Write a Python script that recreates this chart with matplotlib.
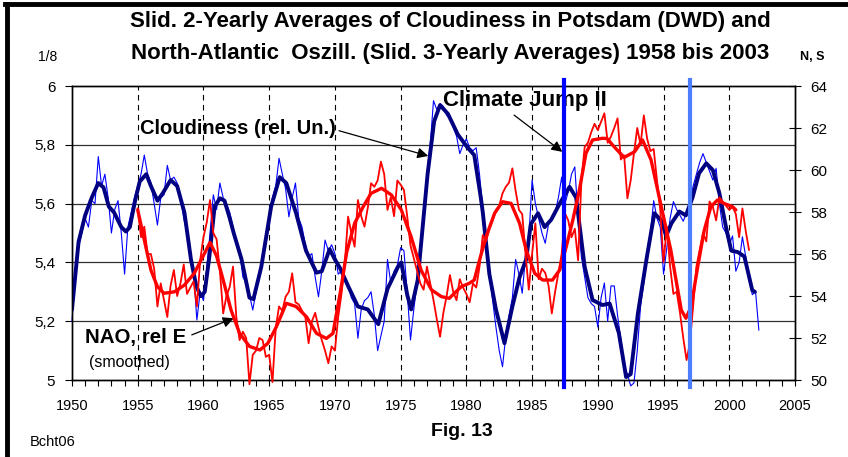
import matplotlib

matplotlib.use('Agg')
import matplotlib.pyplot as plt
from matplotlib.lines import Line2D
from matplotlib.ticker import MultipleLocator

plt.rcParams['font.family'] = ['Liberation Sans', 'DejaVu Sans']

# Bewoelkung, geglaettet (dicke Linie)
navy_years = [1950.0, 1950.5, 1951.0, 1951.5, 1952.0, 1952.4, 1952.8, 1953.2, 1953.75, 1954.1,
              1954.4, 1954.8, 1955.15, 1955.65, 1956.0, 1956.5, 1956.9, 1957.5, 1958.0, 1958.55,
              1959.05, 1959.45, 1959.8, 1960.1, 1960.45, 1960.85, 1961.25, 1961.6, 1962.0, 1962.3,
              1962.9, 1963.5, 1963.8, 1964.4, 1965.15, 1965.8, 1966.3, 1967.05, 1967.8, 1968.6,
              1969.0, 1969.6, 1970.0, 1970.4, 1971.0, 1971.75, 1972.5, 1973.3, 1974.0, 1974.8,
              1975.05, 1975.5, 1975.8, 1976.3, 1977.05, 1977.55, 1978.0, 1978.6, 1979.35, 1980.1,
              1980.6, 1981.1, 1981.25, 1981.75, 1982.25, 1982.9, 1983.5, 1984.05, 1984.55, 1984.9,
              1985.45, 1985.95, 1986.45, 1987.1, 1987.85, 1988.35, 1989.0, 1989.6, 1990.35, 1990.9,
              1991.6, 1992.15, 1992.5, 1993.05, 1993.7, 1994.3, 1994.8, 1995.2, 1995.6, 1996.2,
              1996.7, 1997.2, 1997.7, 1998.25, 1998.75, 1999.25, 1999.75, 2000.15, 2000.65, 2001.15,
              2001.75, 2001.95]
navy_vals = [5.24, 5.47, 5.56, 5.62, 5.67, 5.655, 5.59, 5.57, 5.52, 5.505,
             5.52, 5.61, 5.675, 5.70, 5.66, 5.61, 5.635, 5.68, 5.66, 5.57,
             5.41, 5.32, 5.285, 5.30, 5.42, 5.59, 5.618, 5.61, 5.55, 5.50,
             5.41, 5.28, 5.275, 5.385, 5.59, 5.69, 5.67, 5.567, 5.44, 5.365,
             5.37, 5.445, 5.41, 5.38, 5.32, 5.25, 5.24, 5.19, 5.31, 5.385,
             5.40, 5.29, 5.24, 5.34, 5.70, 5.88, 5.935, 5.905, 5.835, 5.79,
             5.765, 5.62, 5.57, 5.36, 5.24, 5.125, 5.25, 5.35, 5.41, 5.53,
             5.567, 5.52, 5.545, 5.60, 5.657, 5.62, 5.385, 5.272, 5.255, 5.26,
             5.16, 5.01, 5.02, 5.227, 5.41, 5.567, 5.544, 5.49, 5.533, 5.573,
             5.56, 5.62, 5.703, 5.737, 5.714, 5.635, 5.52, 5.44, 5.435, 5.42,
             5.305, 5.30]

# Bewoelkung, gleitende 2-Jahresmittel (duenne Linie), Vierteljahresschritte ab 1950
blue_start = 1950.0
blue_vals = [5.20, 5.36, 5.45, 5.50, 5.55, 5.52, 5.61, 5.60, 5.76, 5.66, 5.70, 5.62,
             5.50, 5.58, 5.61, 5.50, 5.36, 5.52, 5.57, 5.62, 5.66, 5.70, 5.765, 5.70,
             5.67, 5.60, 5.527, 5.62, 5.63, 5.73, 5.68, 5.69, 5.67, 5.62, 5.55, 5.50,
             5.42, 5.36, 5.204, 5.30, 5.27, 5.38, 5.50, 5.63, 5.58, 5.67, 5.62, 5.60,
             5.57, 5.52, 5.46, 5.44, 5.35, 5.33, 5.29, 5.238, 5.30, 5.36, 5.43, 5.47,
             5.55, 5.62, 5.66, 5.754, 5.70, 5.65, 5.555, 5.62, 5.67, 5.55, 5.52, 5.46,
             5.42, 5.43, 5.35, 5.283, 5.37, 5.476, 5.44, 5.46, 5.43, 5.36, 5.37, 5.35,
             5.32, 5.28, 5.26, 5.142, 5.24, 5.27, 5.28, 5.30, 5.22, 5.10, 5.15, 5.20,
             5.41, 5.33, 5.37, 5.39, 5.45, 5.44, 5.30, 5.136, 5.24, 5.33, 5.42, 5.56,
             5.70, 5.80, 5.95, 5.92, 5.94, 5.93, 5.90, 5.89, 5.86, 5.83, 5.77, 5.80,
             5.82, 5.79, 5.78, 5.79, 5.70, 5.58, 5.44, 5.36, 5.27, 5.18, 5.10, 5.045,
             5.15, 5.22, 5.28, 5.41, 5.36, 5.295, 5.42, 5.48, 5.68, 5.60, 5.55, 5.50,
             5.465, 5.53, 5.55, 5.57, 5.62, 5.69, 5.60, 5.64, 5.70, 5.725, 5.55, 5.42,
             5.35, 5.28, 5.26, 5.25, 5.18, 5.28, 5.33, 5.20, 5.32, 5.32, 5.22, 5.14,
             5.05, 5.02, 4.98, 4.99, 5.10, 5.25, 5.33, 5.42, 5.50, 5.61, 5.55, 5.52,
             5.36, 5.45, 5.55, 5.607, 5.58, 5.56, 5.54, 5.57, 5.60, 5.66, 5.70, 5.74,
             5.77, 5.74, 5.71, 5.68, 5.72, 5.60, 5.52, 5.50, 5.46, 5.49, 5.37, 5.40,
             5.487, 5.42, 5.35, 5.29, 5.30, 5.17]

# NAO, geglaettet (dicke rote Linie), rechte Achse
nao_s_years = [1955.0, 1955.5, 1956.0, 1956.5, 1957.0, 1957.8, 1958.55, 1959.3, 1959.95, 1960.5,
               1961.0, 1961.5, 1962.1, 1962.75, 1963.5, 1964.3, 1964.9, 1965.55, 1966.3, 1967.05,
               1967.85, 1968.6, 1969.35, 1969.85, 1970.4, 1970.9, 1971.5, 1972.15, 1972.75, 1973.55,
               1974.3, 1975.05, 1975.8, 1976.55, 1977.35, 1978.1, 1978.7, 1979.6, 1980.2, 1980.6,
               1981.0, 1981.5, 1982.15, 1982.75, 1983.4, 1984.05, 1984.55, 1985.2, 1985.8, 1986.55,
               1987.1, 1987.6, 1988.1, 1988.6, 1989.1, 1989.6, 1990.35, 1990.7, 1991.25, 1992.0,
               1992.8, 1993.4, 1994.05, 1994.55, 1995.05, 1995.55, 1995.95, 1996.35, 1996.7, 1997.1,
               1997.6, 1998.1, 1998.6, 1999.1, 1999.6, 2000.25, 2000.5]
nao_s_vals = [58.1, 56.67, 55.24, 54.44, 54.13, 54.2, 54.52, 55.08, 55.87, 56.55,
              55.9, 54.76, 53.33, 52.22, 51.6, 51.43, 51.75, 52.54, 53.65, 53.5,
              53.0, 52.22, 51.98, 52.22, 54.13, 56.1, 57.46, 58.25, 58.89, 59.13,
              58.81, 58.1, 56.82, 55.24, 54.29, 53.97, 53.89, 54.44, 54.6, 54.76,
              55.71, 56.82, 57.94, 58.49, 58.41, 57.46, 56.19, 55.08, 54.76, 54.76,
              55.24, 56.35, 57.62, 59.05, 60.8, 61.43, 61.51, 61.5, 61.1, 60.6,
              60.87, 61.43, 60.48, 59.05, 57.62, 56.19, 54.76, 53.33, 52.94, 53.49,
              55.4, 57.14, 58.25, 58.57, 58.41, 58.25, 58.1]

# NAO, gleitende 3-Jahresmittel (duenne rote Linie), Vierteljahresschritte ab 1955
nao_start = 1955.0
nao_vals = [58.17, 56.8, 57.3, 56.0, 56.0, 55.3, 53.5, 54.6, 53.8, 53.0, 54.5, 55.24,
            54.0, 54.6, 55.5, 54.1, 54.4, 54.7, 53.5, 55.7, 56.8, 57.5, 58.57, 57.0,
            56.7, 55.2, 53.17, 54.0, 54.44, 55.4, 53.0, 51.9, 52.3, 52.0, 49.8, 51.2,
            51.4, 52.0, 51.9, 51.1, 51.2, 49.9, 52.5, 53.5, 53.3, 53.97, 54.2, 55.08,
            53.7, 53.6, 53.3, 53.0, 51.75, 52.8, 53.2, 52.5, 51.9, 51.4, 50.8, 51.6,
            51.4, 53.0, 54.1, 55.5, 57.78, 57.0, 56.35, 58.57, 57.8, 57.3, 58.2, 59.37,
            59.2, 59.5, 60.4, 59.8, 58.1, 58.7, 57.8, 59.5, 59.3, 59.05, 57.8, 56.4,
            55.8, 55.2, 54.6, 54.3, 55.4, 54.6, 53.8, 52.9, 52.06, 53.2, 54.0, 55.0,
            54.2, 53.8, 54.8, 54.4, 54.1, 53.7, 54.6, 54.4, 55.4, 56.9, 56.6, 57.2,
            57.6, 58.1, 58.3, 58.89, 59.2, 59.4, 60.08, 59.0, 58.1, 57.9, 56.0, 54.3,
            56.0, 57.46, 54.8, 55.3, 55.1, 54.5, 53.17, 54.2, 55.1, 56.0, 57.94, 57.6,
            56.8, 57.2, 55.7, 59.5, 61.1, 61.3, 61.8, 62.2, 61.9, 62.3, 62.7, 61.3,
            61.6, 62.0, 62.46, 60.5, 60.7, 58.65, 59.5, 60.8, 62.0, 61.2, 62.6, 61.5,
            60.9, 61.0, 59.5, 58.1, 55.6, 57.3, 55.4, 54.1, 54.2, 53.2, 52.0, 50.95,
            51.75, 53.5, 55.4, 56.2, 57.0, 56.6, 58.5, 58.25, 57.6, 58.7, 58.5, 58.3,
            58.1, 58.25, 57.9, 56.8, 58.17, 57.1, 56.2]

jump_years = [1987.4, 1997.05]
jump_colors = ['#0000FF', '#4D7EFF']

left_ticks = [5.0, 5.2, 5.4, 5.6, 5.8, 6.0]
left_labels = ['5', '5,2', '5,4', '5,6', '5,8', '6']
right_ticks = [50, 52, 54, 56, 58, 60, 62, 64]
year_ticks = list(range(1950, 2006, 5))

blue_years = [blue_start + 0.25 * i for i in range(len(blue_vals))]
nao_years = [nao_start + 0.25 * i for i in range(len(nao_vals))]

W, H = 848, 457
fig = plt.figure(figsize=(W / 100, H / 100), dpi=100)
ax = fig.add_axes([72 / W, 1 - 380 / H, (795 - 72) / W, (380 - 86) / H])
ax2 = ax.twinx()

ax.set_xlim(1950, 2005)
ax.set_ylim(5, 6)
ax2.set_ylim(50, 64)

# Gitter
for v in left_ticks[1:-1]:
    ax.axhline(v, color='#303030', lw=0.9, zorder=1)
for yr in year_ticks[1:-1]:
    ax.axvline(yr, color='black', lw=0.8, ls=(0, (5, 4)), zorder=1)

ax.plot(blue_years, blue_vals, color='#0000FF', lw=0.8, zorder=3, clip_on=False)
ax.plot(navy_years, navy_vals, color='#000080', lw=2.8, zorder=4, solid_capstyle='round')
ax2.plot(nao_years, nao_vals, color='#FF0000', lw=1.3, zorder=3, clip_on=False)
ax2.plot(nao_s_years, nao_s_vals, color='#FF0000', lw=2.4, zorder=4, solid_capstyle='round')

for yr, c in zip(jump_years, jump_colors):
    ax2.axvline(yr, ymin=-0.025, ymax=1.02, color=c, lw=3.0, zorder=6, clip_on=False)

# Achsen
ax.set_yticks(left_ticks)
ax.set_yticklabels(left_labels)
ax.set_xticks(year_ticks)
ax.xaxis.set_minor_locator(MultipleLocator(1))
ax2.set_yticks(right_ticks)
ax.tick_params(axis='x', which='both', direction='out', length=4, width=0.8, pad=10, labelsize=10.5)
ax.tick_params(axis='y', direction='out', length=5, width=0.8, pad=7, labelsize=11)
ax2.tick_params(axis='y', direction='inout', length=8, width=0.8, pad=7, labelsize=11)
for a in (ax, ax2):
    for s in a.spines.values():
        s.set_linewidth(1.0)

# Beschriftungen
arrow = dict(arrowstyle='-|>', color='black', lw=0.9, mutation_scale=16)
ax.annotate('Cloudiness (rel. Un.)', xy=(1977.1, 5.762), xytext=(1955.2, 5.857),
            fontsize=14.5, fontweight='bold', va='center', ha='left',
            arrowprops=dict(arrow, shrinkA=0, shrinkB=0, relpos=(1.0, 0.4)), zorder=8)
ax.annotate('Climate Jump II', xy=(1987.3, 5.776), xytext=(1978.2, 5.952),
            fontsize=16, fontweight='bold', va='center', ha='left',
            arrowprops=dict(arrow, shrinkA=2, shrinkB=0, relpos=(0.4, 0.0)), zorder=8)
ax.annotate('NAO, rel E', xy=(1962.3, 5.21), xytext=(1951.0, 5.143),
            fontsize=14.8, fontweight='bold', va='center', ha='left',
            arrowprops=dict(arrow, shrinkA=2, shrinkB=0, relpos=(1.0, 0.55)), zorder=8)
ax.text(1951.3, 5.058, '(smoothed)', fontsize=11.5, va='center', ha='left', zorder=8)

fig.text(450 / W, 1 - 22 / H, 'Slid. 2-Yearly Averages of Cloudiness in Potsdam (DWD) and',
         fontsize=16, fontweight='bold', ha='center', va='center')
fig.text(450 / W, 1 - 53 / H, 'North-Atlantic  Oszill. (Slid. 3-Yearly Averages) 1958 bis 2003',
         fontsize=16, fontweight='bold', ha='center', va='center')
fig.text(38 / W, 1 - 57 / H, '1/8', fontsize=10, ha='left', va='center')
fig.text(800 / W, 1 - 57 / H, 'N, S', fontsize=9, fontweight='bold', ha='left', va='center')
fig.text(462 / W, 1 - 432 / H, 'Fig. 13', fontsize=14, fontweight='bold', ha='center', va='center')
fig.text(30 / W, 1 - 442 / H, 'Bcht06', fontsize=10.5, ha='left', va='center')

# Rahmen
fig.add_artist(Line2D([5 / W, 1], [1 - 4 / H, 1 - 4 / H], color='black', lw=3.5))
fig.add_artist(Line2D([7 / W, 7 / W], [0, 1 - 4 / H], color='black', lw=3.5))

fig.savefig('out.png', dpi=100)
